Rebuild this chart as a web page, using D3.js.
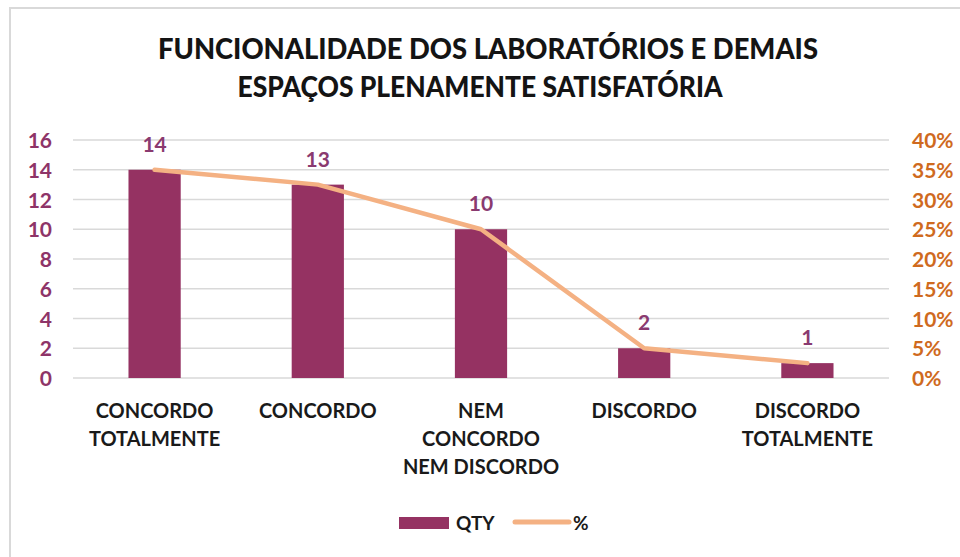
<!DOCTYPE html>
<html>
<head>
<meta charset="utf-8">
<script src="https://cdn.jsdelivr.net/npm/d3@7"></script>
<style>
  body { margin: 0; background: #fff; }
  text { font-family: Lato, "Open Sans", sans-serif; font-weight: bold; }
</style>
</head>
<body>
<svg id="chart" width="960" height="557"></svg>
<script>
// * chart data
const categories = [
  ["CONCORDO", "TOTALMENTE"],
  ["CONCORDO"],
  ["NEM", "CONCORDO", "NEM DISCORDO"],
  ["DISCORDO"],
  ["DISCORDO", "TOTALMENTE"],
];
const qty = [14, 13, 10, 2, 1];
const pct = [0.35, 0.325, 0.25, 0.05, 0.025];
const leftTicks = [0, 2, 4, 6, 8, 10, 12, 14, 16];
const rightTicks = [0, 0.05, 0.1, 0.15, 0.2, 0.25, 0.3, 0.35, 0.4];
const titleLines = ["FUNCIONALIDADE DOS LABORATÓRIOS E DEMAIS", "ESPAÇOS PLENAMENTE SATISFATÓRIA"];

const svg = d3.select("#chart");
const margin = { top: 140, right: 71, bottom: 179, left: 73 };
const width = 960 - margin.left - margin.right;
const height = 557 - margin.top - margin.bottom;

const barColor = "#953262";
const lineColor = "#f4b183";

// * outer chart frame
svg.append("rect")
  .attr("x", 10).attr("y", 8)
  .attr("width", 980).attr("height", 600)
  .style("fill", "none").style("stroke", "#d9d9d9").style("stroke-width", 2);

// * title (width fitted to the original lines)
const titleFit = [
  { cx: 488, y: 59, len: 660 },
  { cx: 480, y: 97, len: 485 },
];
svg.append("g")
  .selectAll("text")
  .data(titleLines)
  .enter()
  .append("text")
  .attr("x", (d, i) => titleFit[i].cx)
  .attr("y", (d, i) => titleFit[i].y)
  .attr("text-anchor", "middle")
  .attr("textLength", (d, i) => titleFit[i].len)
  .attr("lengthAdjust", "spacingAndGlyphs")
  .style("font-size", "28px")
  .style("font-weight", 900)
  .style("fill", "#141414")
  .text((d) => d);

const g = svg.append("g").attr("transform", `translate(${margin.left},${margin.top})`);

const xScale = d3.scaleBand().domain(d3.range(qty.length)).range([0, width]);
const yScale = d3.scaleLinear().domain([0, 16]).range([height, 0]);
const y2Scale = d3.scaleLinear().domain([0, 0.4]).range([height, 0]);

// * gridlines
g.append("g")
  .selectAll("line")
  .data(leftTicks)
  .enter()
  .append("line")
  .attr("x1", 0).attr("x2", width)
  .attr("y1", (d) => yScale(d)).attr("y2", (d) => yScale(d))
  .style("stroke", "#d9d9d9").style("stroke-width", 1.5);

// * left axis
const leftAxis = g.append("g")
  .call(d3.axisLeft(yScale).tickValues(leftTicks).tickSize(0).tickPadding(21));
leftAxis.select(".domain").remove();
leftAxis.selectAll("text")
  .style("font-size", "21px")
  .style("fill", "#8e3468")
  .attr("dy", "0.36em");

// * right axis
const rightAxis = g.append("g")
  .attr("transform", `translate(${width},0)`)
  .call(d3.axisRight(y2Scale).tickValues(rightTicks).tickFormat(d3.format(".0%")).tickSize(0).tickPadding(23));
rightAxis.select(".domain").remove();
rightAxis.selectAll("text")
  .style("font-size", "21px")
  .style("fill", "#cf6a1e")
  .attr("dy", "0.36em");

// * bars
const barW = xScale.bandwidth() * 0.32;
g.append("g")
  .selectAll("rect")
  .data(qty)
  .enter()
  .append("rect")
  .attr("x", (d, i) => xScale(i) + xScale.bandwidth() / 2 - barW / 2)
  .attr("y", (d) => yScale(d))
  .attr("width", barW)
  .attr("height", (d) => height - yScale(d))
  .style("fill", barColor);

// * percentage line
const line = d3.line()
  .x((d, i) => xScale(i) + xScale.bandwidth() / 2)
  .y((d) => y2Scale(d));
g.append("path")
  .datum(pct)
  .attr("d", line)
  .style("fill", "none")
  .style("stroke", lineColor)
  .style("stroke-width", 4.5)
  .style("stroke-linejoin", "round")
  .style("stroke-linecap", "round");

// * data labels
g.append("g")
  .selectAll("text")
  .data(qty)
  .enter()
  .append("text")
  .attr("x", (d, i) => xScale(i) + xScale.bandwidth() / 2)
  .attr("y", (d) => yScale(d) - 18)
  .attr("text-anchor", "middle")
  .style("font-size", "21px")
  .style("fill", "#8a3a70")
  .text((d) => d);

// * category labels
const catG = g.append("g").attr("transform", `translate(0,${height})`);
catG.selectAll("text")
  .data(categories)
  .enter()
  .append("text")
  .attr("x", (d, i) => xScale(i) + xScale.bandwidth() / 2)
  .attr("y", 40)
  .attr("text-anchor", "middle")
  .style("font-size", "20px")
  .style("fill", "#1a1a1a")
  .each(function (d) {
    const t = d3.select(this);
    d.forEach((line, k) => {
      t.append("tspan")
        .attr("x", t.attr("x"))
        .attr("dy", k === 0 ? 0 : 28)
        .text(line);
    });
  });

// * legend
const legend = svg.append("g");
legend.append("rect")
  .attr("x", 399).attr("y", 517)
  .attr("width", 50).attr("height", 12)
  .style("fill", barColor);
legend.append("text")
  .attr("x", 456).attr("y", 530)
  .style("font-size", "19px").style("fill", "#1a1a1a")
  .text("QTY");
legend.append("line")
  .attr("x1", 515).attr("x2", 569)
  .attr("y1", 522).attr("y2", 522)
  .style("stroke", lineColor).style("stroke-width", 5)
  .style("stroke-linecap", "round");
legend.append("text")
  .attr("x", 573).attr("y", 530)
  .style("font-size", "19px").style("fill", "#1a1a1a")
  .text("%");
</script>
</body>
</html>
